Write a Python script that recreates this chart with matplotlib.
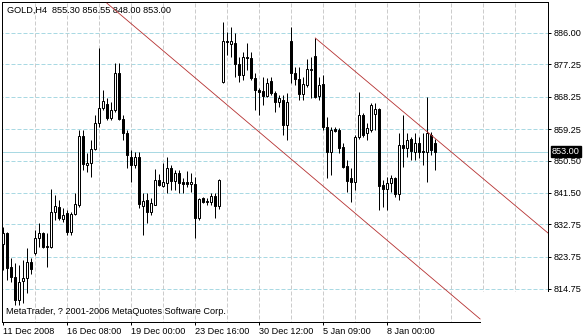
import numpy as np
import matplotlib
matplotlib.use("Agg")
import matplotlib.pyplot as plt
from matplotlib.patches import Rectangle
from matplotlib.transforms import blended_transform_factory

plt.rcParams["font.family"] = ["Liberation Sans", "DejaVu Sans"]

# GOLD H4 candles (one bar every 4 hours)
OPEN = [827.3, 830.3, 820.9, 818.1, 811.7, 817.0, 817.8, 822.3, 824.8, 828.9,
        830.3, 826.4, 826.4, 836.2, 837.6, 834.2, 835.9, 830.6, 835.6, 838.1,
        857.3, 849.3, 849.8, 853.7, 861.0, 865.1, 866.2, 862.3, 864.6, 874.9,
        862.1, 858.2, 851.5, 849.3, 851.5, 837.9, 839.5, 836.2, 838.1, 845.1,
        843.4, 844.3, 848.4, 844.8, 847.0, 844.5, 844.5, 844.0, 844.0, 834.5,
        840.1, 839.0, 839.0, 840.6, 837.8, 872.4, 883.8, 882.9, 883.2, 877.4,
        874.3, 879.3, 879.0, 873.5, 870.1, 869.8, 868.5, 872.6, 869.3, 866.8,
        867.4, 860.4, 883.8, 874.9, 873.2, 869.0, 871.5, 875.7, 879.6, 868.5,
        871.8, 859.8, 852.9, 859.3, 859.0, 854.3, 849.0, 845.6, 844.5, 857.0,
        863.2, 858.2, 859.0, 863.5, 864.8, 843.7, 842.6, 844.3, 845.6, 841.2,
        854.8, 854.0, 856.5, 852.9, 855.4, 853.2, 852.9, 857.6, 855.30]
HIGH = [832.0, 830.6, 823.4, 822.0, 821.4, 822.8, 826.2, 823.4, 831.2, 833.1,
        830.6, 830.3, 842.6, 840.9, 839.5, 837.3, 836.7, 836.2, 841.5, 859.0,
        859.0, 852.6, 856.2, 863.2, 881.8, 870.1, 867.9, 866.8, 877.6, 877.6,
        863.2, 859.0, 853.4, 852.9, 852.9, 841.5, 841.5, 840.1, 848.1, 846.8,
        849.8, 851.5, 849.3, 847.9, 847.9, 845.6, 847.6, 847.0, 845.9, 840.1,
        840.4, 840.1, 841.5, 841.5, 845.4, 889.1, 886.3, 887.7, 886.0, 879.3,
        880.7, 883.2, 880.7, 874.9, 870.7, 873.8, 873.5, 873.8, 869.9, 868.7,
        868.7, 869.3, 887.7, 876.5, 876.5, 873.8, 878.8, 879.3, 884.6, 873.8,
        874.3, 862.6, 859.8, 859.8, 859.6, 855.4, 850.6, 848.4, 857.6, 869.6,
        863.7, 861.0, 866.5, 866.5, 865.1, 845.1, 845.9, 846.5, 845.9, 858.2,
        863.2, 858.2, 857.0, 858.2, 857.0, 858.2, 868.2, 858.4, 856.55]
LOW = [820.0, 817.3, 816.7, 810.3, 810.3, 810.9, 813.6, 818.9, 824.2, 826.4,
       826.2, 820.9, 826.2, 834.0, 834.0, 833.4, 829.8, 829.8, 835.3, 837.6,
       847.9, 847.3, 845.9, 853.4, 859.8, 864.6, 861.8, 861.8, 864.0, 861.8,
       856.2, 848.4, 844.5, 848.4, 837.3, 829.8, 833.1, 835.3, 838.1, 843.4,
       843.1, 841.5, 842.3, 842.3, 841.5, 841.5, 843.1, 841.7, 828.9, 833.9,
       838.7, 838.1, 838.1, 834.5, 837.0, 872.1, 879.9, 879.3, 873.8, 872.4,
       872.9, 875.7, 872.9, 864.6, 863.2, 866.0, 868.2, 868.7, 864.0, 865.4,
       857.6, 856.2, 872.1, 871.5, 867.4, 867.4, 871.0, 867.9, 867.9, 867.4,
       859.0, 845.6, 846.5, 858.4, 852.6, 848.4, 841.7, 839.0, 842.3, 856.5,
       857.0, 856.2, 858.4, 859.0, 836.7, 837.6, 836.7, 841.7, 840.4, 839.5,
       848.7, 851.5, 850.6, 850.6, 851.2, 849.3, 844.5, 852.0, 848.00]
CLOSE = [830.3, 820.6, 818.1, 811.7, 816.7, 817.8, 822.3, 820.3, 828.9, 830.3,
         826.4, 826.7, 836.2, 837.8, 834.5, 835.3, 830.6, 835.6, 838.4, 857.3,
         849.5, 849.8, 853.7, 861.0, 865.1, 867.1, 862.3, 864.6, 874.9, 862.1,
         858.2, 852.0, 849.3, 851.5, 838.4, 839.2, 836.2, 838.7, 845.1, 843.7,
         844.5, 848.4, 844.8, 847.0, 844.3, 844.0, 844.0, 844.5, 834.5, 839.8,
         839.0, 839.2, 840.6, 837.8, 845.1, 883.8, 883.5, 883.8, 877.4, 874.3,
         879.3, 879.0, 873.5, 870.1, 869.6, 868.5, 872.1, 869.3, 866.8, 867.9,
         860.4, 866.8, 874.9, 873.2, 869.0, 871.8, 876.0, 876.0, 868.2, 871.5,
         859.8, 852.9, 859.0, 858.7, 854.0, 848.7, 844.8, 844.5, 857.0, 863.2,
         857.6, 859.6, 866.0, 864.8, 843.4, 842.6, 844.3, 845.6, 841.2, 854.8,
         854.0, 856.2, 853.2, 855.4, 852.9, 852.9, 858.2, 853.4, 853.00]

XTICK_BARS = [0, 16, 32, 48, 64, 80, 96]
XTICK_LABELS = ["11 Dec 2008", "16 Dec 08:00", "19 Dec 00:00", "23 Dec 16:00",
                "30 Dec 12:00", "5 Jan 09:00", "8 Jan 00:00"]
VGRID_BARS = list(range(8, 136, 8))
PRICE_TICKS = [886.00, 877.25, 868.25, 859.25, 850.50, 841.50, 832.75, 823.75, 814.75]
BID = 853.00

# channel lines (bar index, price)
CHANNEL_UPPER = ([78, 136.2], [884.6, 830.3])
CHANNEL_LOWER = ([25.9, 119.2], [894.3, 806.4])

TITLE = "GOLD,H4  855.30 856.55 848.00 853.00"
COPYRIGHT = "MetaTrader, ? 2001-2006 MetaQuotes Software Corp."

W, H = 584, 336
PX = 0.72  # one pixel in points
FS = 6.6
HGRID = "#a9d9e3"
VGRID = "#cccccc"
RED = "#b53030"

fig = plt.figure(figsize=(W / 100, H / 100), dpi=100)
ax = fig.add_axes([2 / W, (H - 322) / H, 546 / W, 320 / H])
ax.set_xlim(-0.325, 136.175)
ax.set_ylim(805.56, 894.62)

x = np.arange(len(OPEN))
o = np.array(OPEN); c = np.array(CLOSE)
lo = np.array(LOW); hi = np.array(HIGH)

# grid
ax.hlines(PRICE_TICKS, -1, 140, colors=HGRID, linewidth=PX,
          linestyles=(0, (4, 2)), zorder=0)
ax.vlines(VGRID_BARS, 800, 900, colors=VGRID, linewidth=PX,
          linestyles=(0, (4, 2)), zorder=0)
ax.axhline(BID, color=HGRID, linewidth=PX, zorder=1)

# candles
ax.vlines(x, lo, hi, colors="black", linewidth=PX, zorder=2)
bottoms = np.minimum(o, c)
heights = np.abs(c - o)
face = np.where(c >= o, "white", "black")
ax.bar(x, heights, bottom=bottoms, width=0.55, color=face,
       edgecolor="black", linewidth=PX, zorder=3)

# channel
ax.plot(*CHANNEL_UPPER, color=RED, linewidth=0.6, zorder=4)
ax.plot(*CHANNEL_LOWER, color=RED, linewidth=0.6, zorder=4)

# axes look
for s in ax.spines.values():
    s.set_linewidth(PX)
    s.set_color("black")
ax.yaxis.tick_right()
ax.set_yticks(PRICE_TICKS)
ax.set_yticklabels([f"{p:.2f}" for p in PRICE_TICKS])
ax.set_xticks(XTICK_BARS)
ax.set_xticklabels(XTICK_LABELS)
for lbl in ax.get_xticklabels():
    lbl.set_ha("left")
ax.tick_params(axis="both", length=2.5, width=PX, labelsize=FS, colors="black")
ax.tick_params(axis="y", pad=1.5)
ax.tick_params(axis="x", pad=1.0)

ax.text(5 / 546, 1 - 8 / 320, TITLE, transform=ax.transAxes,
        fontsize=FS, va="center", ha="left")
ax.text(4 / 546, 1 - 309 / 320, COPYRIGHT, transform=ax.transAxes,
        fontsize=FS, va="center", ha="left")

tr = blended_transform_factory(ax.transAxes, ax.transData)
ax.text(1 + 4 / 546, BID, f"{BID:.2f}", transform=tr, color="white",
        fontsize=FS, va="center", ha="left", clip_on=False, zorder=6,
        bbox=dict(boxstyle="square,pad=0.15", fc="black", ec="black"))

# blank patch at the lower right corner of the screenshot
fig.add_artist(Rectangle((480.5 / W, 0), (551 - 480.5) / W, (H - 291.5) / H,
                         transform=fig.transFigure, facecolor="white",
                         edgecolor="none", zorder=10))

fig.savefig("out.png", dpi=100)
